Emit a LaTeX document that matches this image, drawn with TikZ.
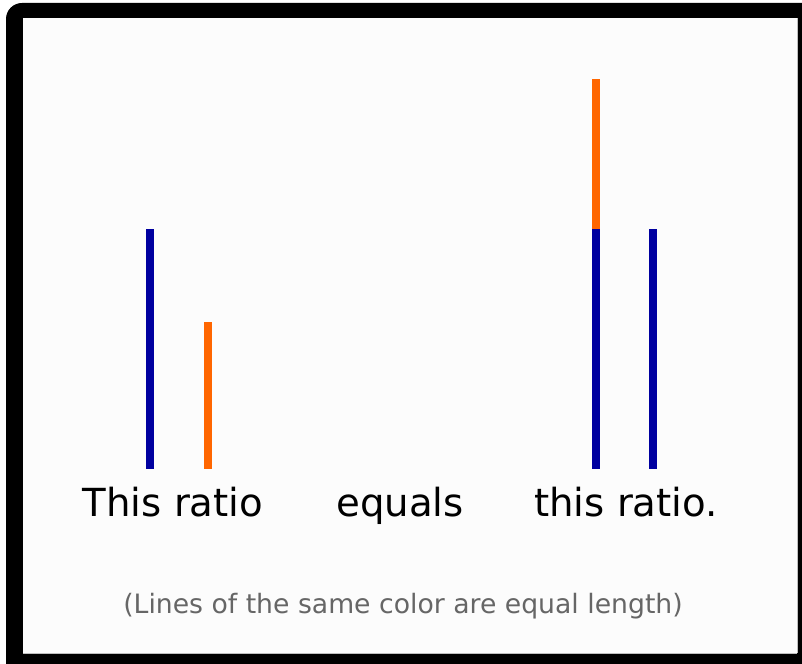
\documentclass[tikz,border=0pt]{standalone}
\usepackage{fontspec}
\setmainfont{DejaVu Sans}
\usepackage{tikz}
\usetikzlibrary{positioning,calc}
\definecolor{ratioblue}{RGB}{0,0,160}
\definecolor{ratioorange}{RGB}{255,102,0}
\definecolor{notegray}{RGB}{102,102,102}
\tikzset{
  bar/.style={line width=6pt,line cap=butt},
  word/.style={anchor=base,inner sep=0pt,font=\fontsize{29}{35}\selectfont},
}

\begin{document}
\begin{tikzpicture}[x=0.75pt,y=0.75pt]
      \useasboundingbox (0,0) rectangle (802,663);
      \fill[white] (0,0) rectangle (802,663);
      % frame
      \begin{scope}
        \clip (0,0) rectangle (802,663);
        \fill[black,rounded corners=12pt] (6,660) rectangle (820,-20);
      \end{scope}
      \fill[white!99!black] (23,10) rectangle (797,645);
      \draw[black!25,line width=0.6pt] (797,10) -- (797,645);
      \draw[black!25,line width=0.6pt] (23,10) -- (797,10);
      % end points of the bars
      \coordinate (a0) at (150,194);
      \coordinate (a1) at (150,434);
      \coordinate (b0) at (207.5,194);
      \coordinate (b1) at (207.5,341);
      \coordinate (c0) at (596,194);
      \coordinate (c1) at (596,434);
      \coordinate (c2) at (596,584);
      \coordinate (d0) at (653,194);
      \coordinate (d1) at (653,434);
      \draw[bar,ratioblue] (a0) -- (a1);
      \draw[bar,ratioorange] (b0) -- (b1);
      \draw[bar,ratioblue] (c0) -- (c1);
      \draw[bar,ratioorange] (c1) -- (c2);
      \draw[bar,ratioblue] (d0) -- (d1);
      % words
      \node[word] (lhs) at (173,146) {This ratio};
      \node[word] (eq) at (400,146) {equals};
      \node[word] (rhs) at (626,146) {this ratio.};
      \node[anchor=base,inner sep=0pt,text=notegray,
        font=\fontsize{20}{24}\selectfont] (note) at (403,49)
        {(Lines of the same color are equal length)};
    \end{tikzpicture}
\end{document}
